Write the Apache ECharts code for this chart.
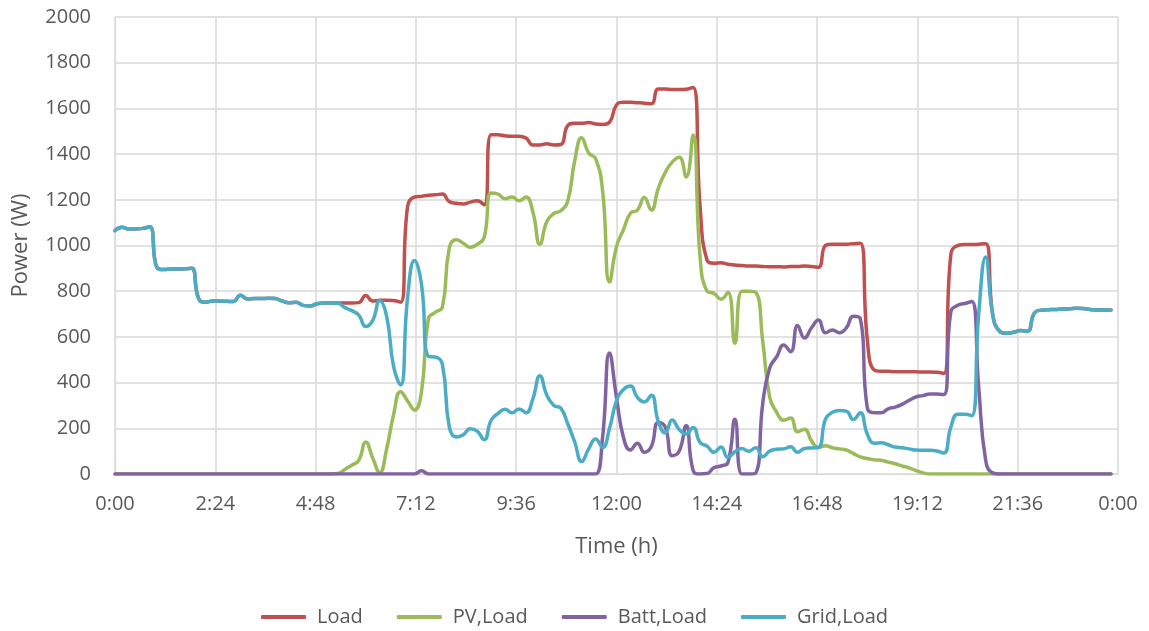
<!DOCTYPE html>
<html>
<head>
<meta charset="utf-8">
<title>Power (W)</title>
<script src="https://cdn.jsdelivr.net/npm/echarts@6/dist/echarts.min.js"></script>
<style>
  html, body { margin: 0; padding: 0; background: #ffffff; }
  #chart { width: 1149px; height: 631px; }
</style>
</head>
<body>
<div id="chart"></div>
<script>
// Daily power profile, one sample every 10 minutes (0:00 .. 23:50)
const STEP_MIN = 10;
const seriesNames = ['Load', 'PV,Load', 'Batt,Load', 'Grid,Load'];
const yTicks = { min: 0, max: 2000, interval: 200 };
const xTicks = { min: 0, max: 1440, interval: 144 }; // minutes, a label every 2:24

const load = [
  1065, 1080, 1072, 1073, 1075, 1082, 905, 895, 897, 897,
  898, 900, 768, 752, 757, 757, 756, 755, 782, 766,
  768, 768, 769, 768, 757, 750, 752, 738, 735, 745,
  748, 748, 748, 748, 748, 750, 781, 757, 760, 760,
  759, 752, 1170, 1212, 1215, 1220, 1222, 1225, 1192, 1185,
  1182, 1190, 1196, 1178, 1485, 1485, 1480, 1478, 1478, 1470,
  1440, 1440, 1445, 1440, 1442, 1525, 1535, 1535, 1538, 1532,
  1530, 1540, 1615, 1627, 1627, 1625, 1623, 1620, 1685, 1685,
  1683, 1683, 1684, 1692, 1170, 935, 922, 925, 918, 915,
  912, 910, 910, 908, 907, 907, 906, 908, 908, 910,
  908, 905, 1000, 1005, 1005, 1006, 1008, 1010, 590, 455,
  450, 450, 448, 448, 448, 447, 446, 446, 445, 440,
  960, 1000, 1004, 1004, 1005, 1008, 700, 625, 616, 620,
  628, 625, 705, 717, 719, 720, 722, 723, 725, 724,
  720, 718, 718, 718
];

const pv = [
  0, 0, 0, 0, 0, 0, 0, 0, 0, 0,
  0, 0, 0, 0, 0, 0, 0, 0, 0, 0,
  0, 0, 0, 0, 0, 0, 0, 0, 0, 0,
  0, 0, 2, 20, 38, 60, 140, 70, 6, 110,
  260, 360, 320, 280, 360, 680, 708, 730, 990, 1025,
  1010, 992, 1005, 1035, 1230, 1225, 1205, 1212, 1196, 1212,
  1145, 1005, 1105, 1140, 1152, 1195, 1370, 1472, 1405, 1380,
  1240, 840, 995, 1070, 1141, 1155, 1210, 1155, 1250, 1320,
  1365, 1386, 1300, 1484, 950, 800, 790, 765, 795, 572,
  800, 800, 795, 580, 335, 270, 235, 245, 185, 196,
  145, 116, 124, 115, 110, 105, 90, 75, 68, 62,
  60, 52, 45, 35, 27, 15, 5, 0, 0, 0,
  0, 0, 0, 0, 0, 0, 0, 0, 0, 0,
  0, 0, 0, 0, 0, 0, 0, 0, 0, 0,
  0, 0, 0, 0
];

const batt = [
  0, 0, 0, 0, 0, 0, 0, 0, 0, 0,
  0, 0, 0, 0, 0, 0, 0, 0, 0, 0,
  0, 0, 0, 0, 0, 0, 0, 0, 0, 0,
  0, 0, 0, 0, 0, 0, 0, 0, 0, 0,
  0, 0, 0, 0, 14, 0, 0, 0, 0, 0,
  0, 0, 0, 0, 0, 0, 0, 0, 0, 0,
  0, 0, 0, 0, 0, 0, 0, 0, 0, 0,
  160, 530, 335, 160, 105, 135, 95, 120, 225, 205,
  80, 100, 211, 15, 0, 2, 28, 35, 50, 240,
  0, 0, 5, 310, 465, 513, 565, 535, 650, 595,
  640, 674, 618, 630, 618, 640, 690, 680, 290, 268,
  268, 285, 293, 305, 322, 337, 343, 350, 350, 348,
  710, 738, 746, 755, 380, 60, 5, 0, 0, 0,
  0, 0, 0, 0, 0, 0, 0, 0, 0, 0,
  0, 0, 0, 0
];

const grid = [
  1065, 1080, 1072, 1073, 1075, 1082, 905, 895, 897, 897,
  898, 900, 768, 752, 757, 757, 756, 755, 782, 766,
  768, 768, 769, 768, 757, 750, 752, 738, 735, 745,
  748, 748, 747, 728, 715, 695, 645, 672, 758, 690,
  470, 390, 770, 934, 830, 515, 512, 480, 205, 162,
  172, 198, 188, 150, 235, 265, 283, 268, 285, 268,
  330, 430, 345, 300, 288, 220, 140, 55, 110, 153,
  116, 200, 320, 370, 385, 335, 315, 345, 230, 180,
  236, 195, 175, 204, 138, 122, 95, 118, 73, 97,
  112, 100, 115, 75, 100, 108, 110, 119, 95, 112,
  114, 116, 240, 270, 278, 275, 238, 268, 175, 135,
  137, 128, 118, 115, 110, 105, 104, 104, 101, 92,
  205, 262, 262, 255, 700, 950, 700, 625, 616, 620,
  628, 625, 705, 717, 719, 720, 722, 723, 725, 724,
  720, 718, 718, 718
];

const colors = ['#C0504D', '#9BBB59', '#8064A2', '#4BACC6'];
const textColor = '#595959';
const gridLine = '#D9D9D9';
const fontFamily = '"Open Sans", "Noto Sans", sans-serif';

// pair each value with its sampling time in minutes
function toPoints(values) {
  return values.map((v, i) => [i * STEP_MIN, v]);
}

function timeLabel(m) {
  const t = m % 1440;
  const h = Math.floor(t / 60);
  const mm = Math.round(t % 60);
  return h + ':' + (mm < 10 ? '0' : '') + mm;
}

const chart = echarts.init(document.getElementById('chart'), null, { renderer: 'canvas' });

const allSeries = [load, pv, batt, grid].map((vals, i) => ({
  name: seriesNames[i],
  type: 'line',
  data: toPoints(vals),
  smooth: 0.5,
  symbol: 'none',
  lineStyle: { width: 3.5, color: colors[i], cap: 'round', join: 'round' },
  itemStyle: { color: colors[i] },
  z: 2 + i
}));

chart.setOption({
  backgroundColor: '#ffffff',
  animation: false,
  color: colors,
  textStyle: { fontFamily: fontFamily },
  grid: { left: 115, right: 31, top: 17, bottom: 157, containLabel: false, outerBoundsMode: 'none' },
  xAxis: {
    type: 'value',
    min: xTicks.min,
    max: xTicks.max,
    interval: xTicks.interval,
    name: 'Time (h)',
    nameLocation: 'middle',
    nameGap: 62,
    nameTextStyle: { color: textColor, fontSize: 22, fontFamily: fontFamily },
    axisLine: { show: true, lineStyle: { color: gridLine, width: 1 } },
    axisTick: { show: false },
    axisLabel: {
      color: textColor, fontSize: 20, fontFamily: fontFamily, margin: 20,
      formatter: timeLabel
    },
    splitLine: { show: true, lineStyle: { color: gridLine, width: 1.5 } }
  },
  yAxis: {
    type: 'value',
    min: yTicks.min,
    max: yTicks.max,
    interval: yTicks.interval,
    name: 'Power (W)',
    nameLocation: 'middle',
    nameRotate: 90,
    nameGap: 83,
    nameTextStyle: { color: textColor, fontSize: 22, fontFamily: fontFamily },
    axisLine: { show: true, lineStyle: { color: gridLine, width: 1 } },
    axisTick: { show: false },
    axisLabel: {
      color: textColor, fontSize: 20, fontFamily: fontFamily, margin: 24,
      formatter: v => String(v)
    },
    splitLine: { show: true, lineStyle: { color: gridLine, width: 1.5 } }
  },
  legend: {
    data: seriesNames,
    top: 602,
    left: 'center',
    icon: 'roundRect',
    itemWidth: 45,
    itemHeight: 4,
    itemGap: 34,
    textStyle: { color: textColor, fontSize: 20, fontFamily: fontFamily, padding: [0, 0, 0, 6] }
  },
  series: allSeries
});
</script>
</body>
</html>
